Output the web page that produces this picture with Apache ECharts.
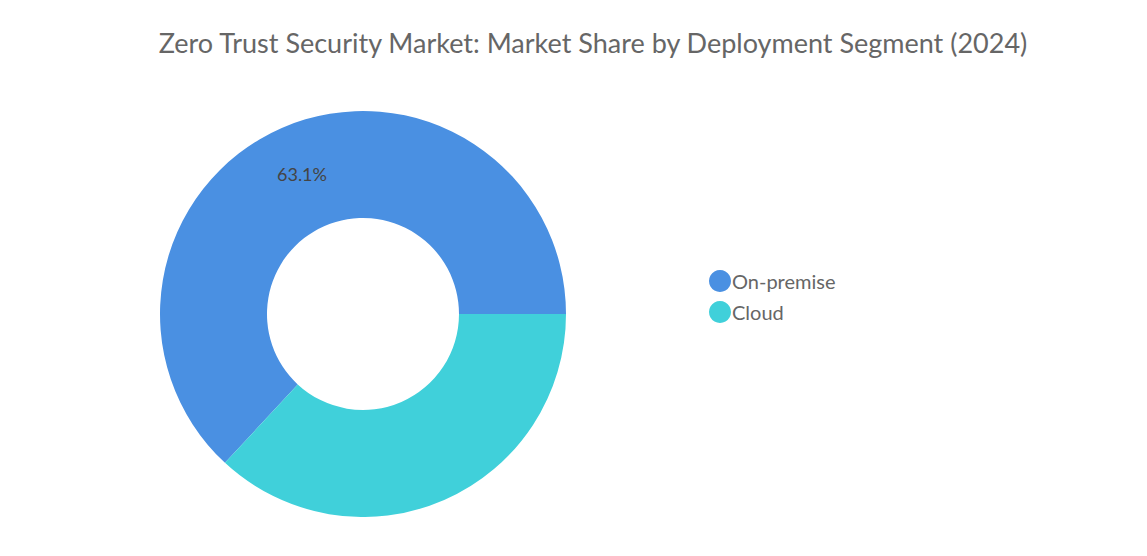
<!DOCTYPE html>
<html>
<head>
<meta charset="utf-8">
<script src="https://cdn.jsdelivr.net/npm/echarts@6/dist/echarts.min.js"></script>
<style>
html, body { margin: 0; padding: 0; background: #fff; }
#chart { width: 1147px; height: 556px; }
</style>
</head>
<body>
<div id="chart"></div>
<script>
var segments = ['On-premise', 'Cloud'];
var shares = [63.1, 36.9];
var showLabel = [true, false];

var myChart = echarts.init(document.getElementById('chart'), null, { renderer: 'svg' });

var pieData = [];
for (var i = 0; i < segments.length; i++) {
    pieData.push({
        name: segments[i],
        value: shares[i],
        label: { show: showLabel[i] }
    });
}

var option = {
    color: ['#4a90e2', '#40d0da'],
    title: {
        text: 'Zero Trust Security Market: Market Share by Deployment Segment (2024)',
        left: 588,
        top: 24,
        textAlign: 'center',
        textStyle: { fontFamily: 'Lato', fontSize: 27, fontWeight: 'normal', color: '#666' }
    },
    legend: {
        orient: 'vertical',
        left: 704,
        top: 265,
        icon: 'circle',
        itemWidth: 22,
        itemHeight: 22,
        itemGap: 9,
        textStyle: { fontFamily: 'Lato', fontSize: 20, color: '#666', padding: [0, 0, 0, -4] },
        data: segments
    },
    series: [{
        type: 'pie',
        center: [363, 314],
        radius: [96, 203],
        startAngle: 0,
        clockwise: false,
        avoidLabelOverlap: false,
        label: {
            position: 'inside',
            formatter: '{c}%',
            fontFamily: 'Lato',
            fontSize: 18,
            color: '#444'
        },
        labelLine: { show: false },
        data: pieData
    }]
};
myChart.setOption(option, true);
</script>
</body>
</html>
